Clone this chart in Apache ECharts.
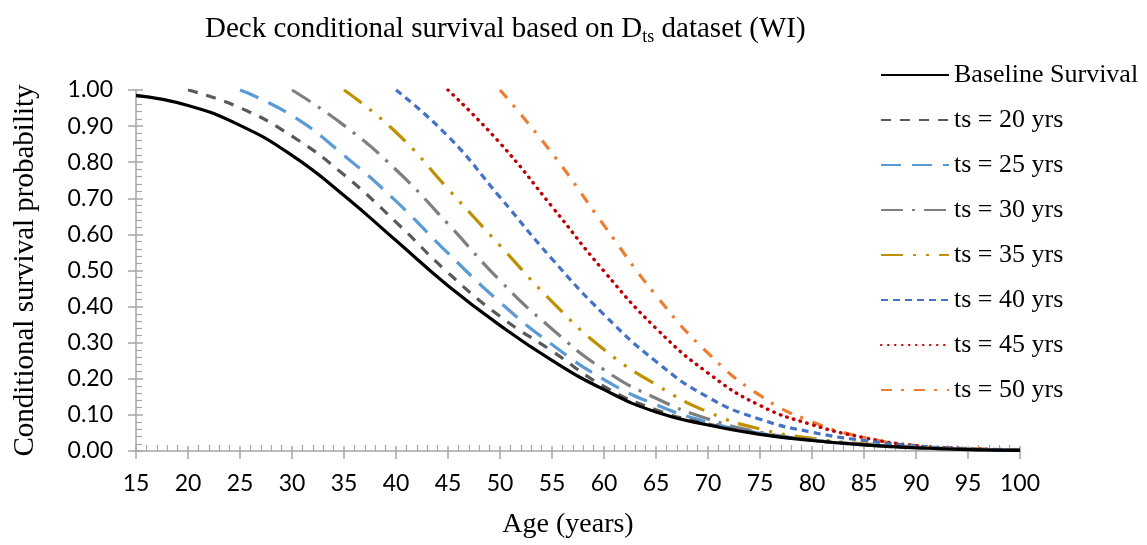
<!DOCTYPE html>
<html>
<head>
<meta charset="utf-8">
<script src="https://cdn.jsdelivr.net/npm/echarts@6/dist/echarts.min.js"></script>
<style>
html,body{margin:0;padding:0;background:#fff;}
#chart{width:1147px;height:545px;}
</style>
</head>
<body>
<div id="chart"></div>
<script>
// ---- data ----
const ages = [15,20,25,30,35,40,45,50,55,60,65,70,75,80,85,90,95,100];
const xTicks = [15,20,25,30,35,40,45,50,55,60,65,70,75,80,85,90,95,100];
const yTicks = [0,0.1,0.2,0.3,0.4,0.5,0.6,0.7,0.8,0.9,1.0];
const seriesNames = ["Baseline Survival","ts = 20 yrs","ts = 25 yrs","ts = 30 yrs","ts = 35 yrs","ts = 40 yrs","ts = 45 yrs","ts = 50 yrs"];
const startAges = [15,20,25,30,35,40,45,50];
const baseline = [0.985,0.957,0.902,0.819,0.708,0.583,0.458,0.348,0.251,0.170,0.108,0.072,0.046,0.029,0.017,0.009,0.004,0.002];
const ts20 = [1.000,0.951,0.872,0.765,0.634,0.494,0.373,0.277,0.179,0.114,0.075,0.048,0.030,0.018,0.009,0.004,0.002];
const ts25 = [1.000,0.929,0.819,0.692,0.548,0.412,0.295,0.198,0.128,0.080,0.049,0.030,0.018,0.010,0.005,0.002];
const ts30 = [1.000,0.902,0.779,0.629,0.472,0.338,0.225,0.146,0.089,0.052,0.030,0.017,0.009,0.004,0.002];
const ts35 = [1.000,0.883,0.726,0.569,0.414,0.281,0.184,0.108,0.061,0.035,0.020,0.010,0.005,0.002];
const ts40 = [1.000,0.872,0.703,0.532,0.378,0.248,0.149,0.088,0.052,0.029,0.014,0.006,0.003];
const ts45 = [1.000,0.853,0.677,0.498,0.340,0.216,0.126,0.073,0.037,0.015,0.007,0.003];
const ts50 = [1.000,0.825,0.625,0.431,0.271,0.154,0.081,0.038,0.015,0.007,0.003];

const allValues = [baseline, ts20, ts25, ts30, ts35, ts40, ts45, ts50];

// ---- styles ----
const colors = ['#000000','#595959','#5B9BD5','#7F7F7F','#BF9000','#4472C4','#C00000','#ED7D31'];
const dashes = ['solid',[10,9],[20,11],[22,9,3,9],[22,10,3,10,3,10],[7,5],[0.5,6.5],[11,9,3,10]];
const widths = [3.2,3.2,3.2,3.2,3.2,3.2,3.4,3.2];
const caps = ['butt','butt','butt','butt','butt','butt','round','butt'];

const serif = '"Liberation Serif", "Times New Roman", serif';
const sans = 'Lato, "Open Sans", sans-serif';
const axisGray = '#A6A6A6';

const series = allValues.map((vals, i) => {
  const start = ages.indexOf(startAges[i]);
  const data = vals.map((v, k) => [ages[start + k], v]);
  return {
    name: seriesNames[i],
    type: 'line',
    xAxisIndex: 0, yAxisIndex: 0,
    data: data,
    symbol: 'none',
    smooth: 0.5,
    z: 10 - i * 0.1,
    lineStyle: { color: colors[i], width: widths[i], type: dashes[i], cap: caps[i] },
    itemStyle: { color: colors[i] },
    emphasis: { disabled: true },
    animation: false
  };
});

const chart = echarts.init(document.getElementById('chart'), null, {renderer: 'canvas'});
chart.setOption({
  backgroundColor: '#ffffff',
  animation: false,
  title: {
    text: 'Deck conditional survival based on D{sub|ts} dataset (WI)',
    left: 200, top: 7,
    textStyle: {
      fontFamily: serif, fontSize: 29, fontWeight: 'normal', color: '#000', lineHeight: 34,
      rich: { sub: { fontFamily: serif, fontSize: 18, lineHeight: 18, verticalAlign: 'bottom', color: '#000' } }
    }
  },
  legend: {
    orient: 'vertical',
    left: 880, top: 62, padding: 0,
    itemWidth: 68, itemHeight: 14, itemGap: 19,
    itemStyle: { opacity: 0, borderWidth: 0 },
    textStyle: { fontFamily: serif, fontSize: 26, color: '#000', padding: [0,0,0,0] },
    data: seriesNames,
    selectedMode: false
  },
  grid: { left: 136, top: 90, width: 884, height: 361, containLabel: false },
  xAxis: [
    {
      type: 'value', position: 'bottom', min: 15, max: 100, interval: 5,
      name: 'Age (years)', nameLocation: 'middle', nameGap: 60,
      nameTextStyle: { fontFamily: serif, fontSize: 28, color: '#000', padding: [0, 20, 0, 0] },
      axisLine: { show: true, lineStyle: { color: axisGray, width: 1.5 } },
      axisTick: { show: true, inside: false, length: 8, lineStyle: { color: axisGray, width: 1.5 } },
      axisLabel: { show: true, margin: 21, fontFamily: sans, fontSize: 23, color: '#000',
        formatter: v => xTicks.indexOf(v) >= 0 ? String(v) : '' },
      splitLine: { show: false }
    },
    {
      type: 'value', position: 'bottom', min: 15, max: 100, interval: 5,
      axisLine: { show: false },
      axisTick: { show: true, inside: true, length: 5, lineStyle: { color: axisGray, width: 1.5 } },
      minorTick: { show: true, splitNumber: 5, length: 6, lineStyle: { color: axisGray, width: 1.2 } },
      axisLabel: { show: false },
      splitLine: { show: false }
    }
  ],
  yAxis: [
    {
      type: 'value', position: 'left', min: 0, max: 1, interval: 0.1,
      name: 'Conditional survival probability', nameLocation: 'middle', nameGap: 96,
      nameTextStyle: { fontFamily: serif, fontSize: 29, color: '#000' },
      axisLine: { show: true, lineStyle: { color: axisGray, width: 1.5 } },
      axisTick: { show: true, inside: false, length: 8, lineStyle: { color: axisGray, width: 1.5 } },
      axisLabel: { show: true, margin: 23, fontFamily: sans, fontSize: 23, color: '#000',
        formatter: v => yTicks.some(t => Math.abs(t - v) < 1e-9) ? v.toFixed(2) : '' },
      splitLine: { show: false }
    },
    {
      type: 'value', position: 'left', min: 0, max: 1, interval: 0.1,
      axisLine: { show: false },
      axisTick: { show: true, inside: true, length: 7, lineStyle: { color: axisGray, width: 1.5 } },
      minorTick: { show: true, splitNumber: 5, length: 6, lineStyle: { color: axisGray, width: 1.2 } },
      axisLabel: { show: false },
      splitLine: { show: false }
    }
  ],
  series: series
});
</script>
</body>
</html>
